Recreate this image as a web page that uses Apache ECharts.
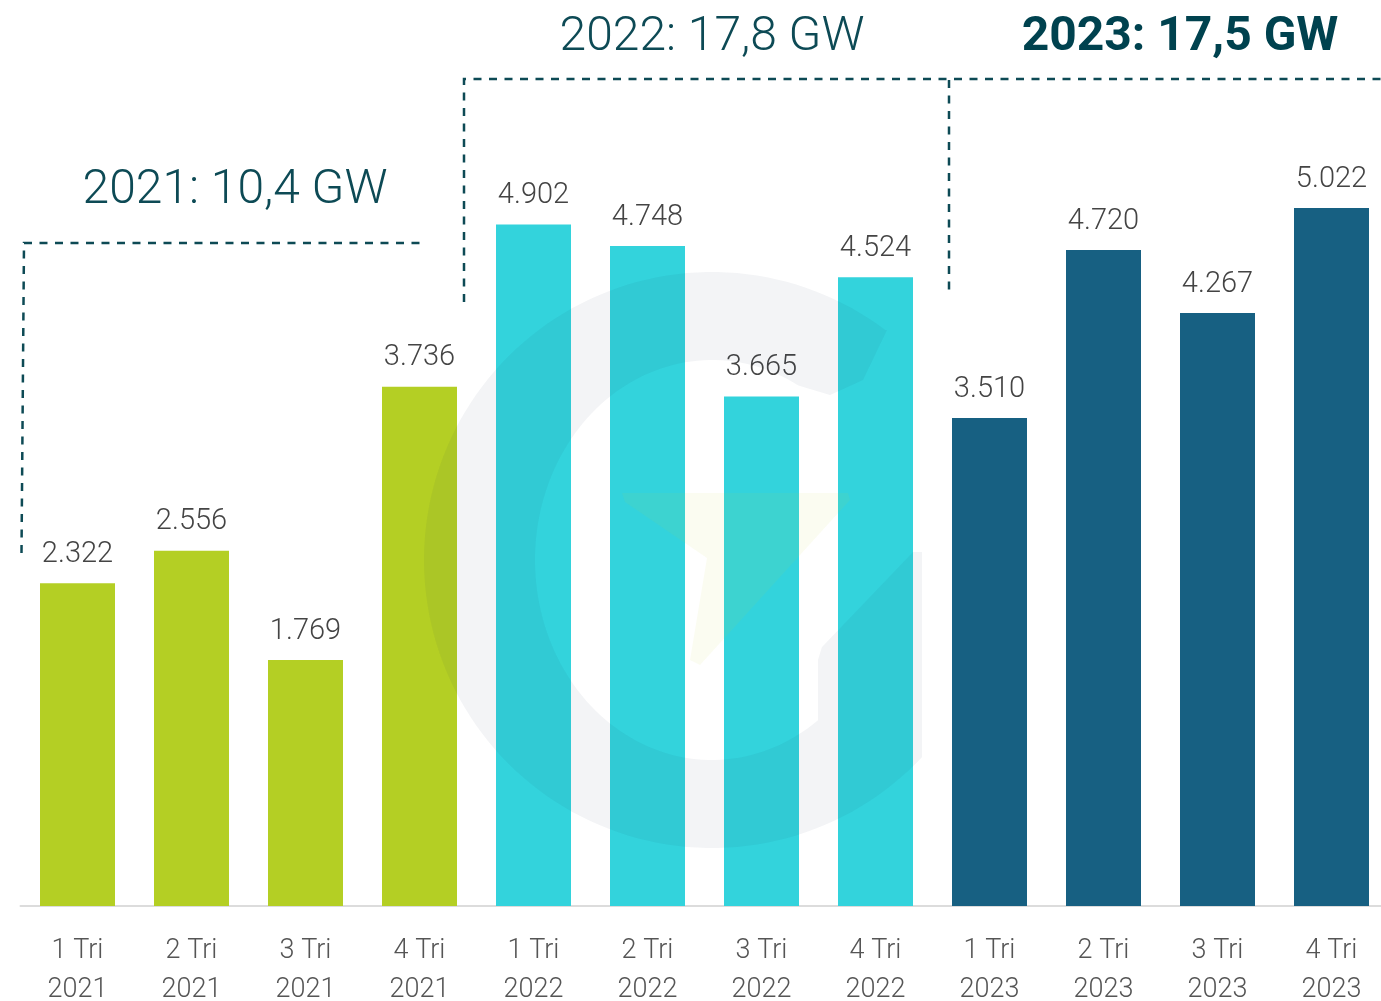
<!DOCTYPE html>
<html>
<head>
<meta charset="utf-8">
<style>
html,body{margin:0;padding:0;background:#fff;}
#chart{width:1381px;height:1001px;}
</style>
<script src="https://cdn.jsdelivr.net/npm/echarts@6/dist/echarts.min.js"></script>
</head>
<body>
<div id="chart"></div>
<script>
const categories = ['1 Tri\n2021','2 Tri\n2021','3 Tri\n2021','4 Tri\n2021',
                    '1 Tri\n2022','2 Tri\n2022','3 Tri\n2022','4 Tri\n2022',
                    '1 Tri\n2023','2 Tri\n2023','3 Tri\n2023','4 Tri\n2023'];
const values2021 = [2322, 2556, 1769, 3736];
const values2022 = [4902, 4748, 3665, 4524];
const values2023 = [3510, 4720, 4267, 5022];
const yearColors = ['#b4cf24', '#33d3dc', '#176082'];
const yearTitles = ['2021: 10,4 GW', '2022: 17,8 GW', '2023: 17,5 GW'];

const groups = [values2021, values2022, values2023];
const barData = [];
groups.forEach((g, gi) => g.forEach(v => barData.push({value: v, itemStyle: {color: yearColors[gi]}})));

function fmt(v){ return (v/1000).toFixed(3); }

// decorative watermark logo outline
function gShape(){
  const cx = 712, cy = 560, r = 288, rx0 = 177, ry0 = 200;
  const pts = [];
  const d2r = Math.PI/180;
  for (let a = 307; a >= 42; a -= 2) pts.push([cx + r*Math.cos(a*d2r), cy + r*Math.sin(a*d2r)]);
  pts.push([922, cy + Math.sqrt(r*r - 210*210)]);
  pts.push([922, 552]);
  pts.push([913, 552]);
  pts.push([822, 647]);
  pts.push([818, 660]);
  const t0 = Math.acos((818 - cx)/rx0)/d2r;
  for (let t = t0; t <= 300; t += 2) pts.push([cx + rx0*Math.cos(t*d2r), cy + ry0*Math.sin(t*d2r)]);
  pts.push([830, 395]);
  pts.push([863, 380]);
  pts.push([887, 330]);
  return pts;
}

const chart = echarts.init(document.getElementById('chart'));
const dash = {stroke: '#0d4a55', lineWidth: 2.5, lineDash: [8, 7.5]};
chart.setOption({
  animation: false,
  grid: {left: 20.5, width: 1368, top: 72, bottom: 95, containLabel: false, outerBoundsMode: 'none'},
  xAxis: {
    type: 'category', data: categories,
    axisLine: {lineStyle: {color: '#dcdcdc', width: 2}},
    axisTick: {show: false},
    axisLabel: {color: '#555', fontFamily: 'Roboto', fontWeight: 300, fontSize: 27, lineHeight: 39, margin: 26, interval: 0}
  },
  yAxis: {type: 'value', min: 0, max: 6000, show: false, splitLine: {show: false}},
  series: [{
    type: 'bar', data: barData, barWidth: 75,
    label: {show: true, position: 'top', distance: 14, color: '#444', fontFamily: 'Roboto', fontWeight: 300, fontSize: 29,
            formatter: p => fmt(p.value)}
  }],
  graphic: [
    {type: 'polygon', shape: {points: gShape()}, style: {fill: 'rgba(20,40,70,0.05)'}, z: 100, silent: true},
    {type: 'polygon', shape: {points: [[622,493],[848,493],[850,500],[700,665],[690,660],[707,558],[625,502]]}, style: {fill: 'rgba(200,210,60,0.07)'}, z: 100, silent: true},
    {type: 'polyline', shape: {points: [[21.5,553],[24,243],[425,243]]}, style: dash, z: 50},
    {type: 'polyline', shape: {points: [[464,302],[464,79],[1381,79]]}, style: dash, z: 50},
    {type: 'line', shape: {x1: 949, y1: 80, x2: 949, y2: 296}, style: dash, z: 50},
    {type: 'text', x: 235, y: 191, style: {text: yearTitles[0], fill: '#0d4a55', font: '300 48px Roboto', textAlign: 'center', textVerticalAlign: 'middle'}},
    {type: 'text', x: 712, y: 38, style: {text: yearTitles[1], fill: '#0d4a55', font: '300 48px Roboto', textAlign: 'center', textVerticalAlign: 'middle'}},
    {type: 'text', x: 1180, y: 38, style: {text: yearTitles[2], fill: '#00424f', font: 'bold 48px Roboto', textAlign: 'center', textVerticalAlign: 'middle'}}
  ]
});
</script>
</body>
</html>
